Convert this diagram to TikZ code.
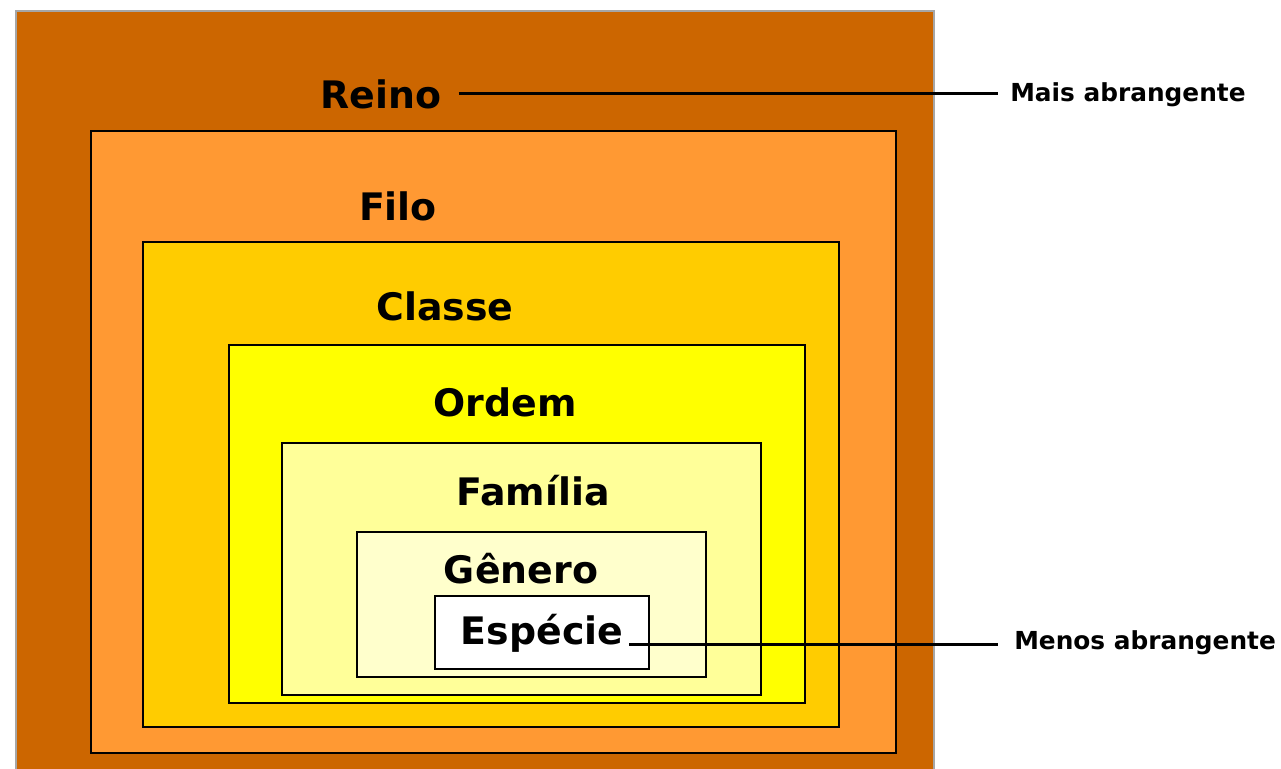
\documentclass[tikz,border=0pt]{standalone}
\usepackage{fontspec}
\setmainfont{DejaVu Sans}
\usepackage{xcolor}

\definecolor{reinocol}{HTML}{CC6600}
\definecolor{filocol}{HTML}{FF9933}
\definecolor{classecol}{HTML}{FFCC00}
\definecolor{ordemcol}{HTML}{FFFF00}
\definecolor{familiacol}{HTML}{FFFF99}
\definecolor{generocol}{HTML}{FFFFCC}

\begin{document}
\begin{tikzpicture}[x=0.75pt,y=-0.75pt,
    box/.style={draw=black,line width=1.5pt},
    rank/.style={font=\fontsize{28.4}{28.4}\selectfont\bfseries,inner sep=0pt,anchor=base},
    side/.style={font=\fontsize{18.6}{18.6}\selectfont\bfseries,inner sep=0pt,anchor=base west},
    link/.style={line width=2.25pt}]
        \useasboundingbox (0,0) rectangle (1281,768);

        % Reino
        \draw[fill=reinocol,draw=gray!70,line width=1.5pt] (16,11) rectangle (934,780);
        \node[rank] (reino) at (381,108) {Reino};

        % Filo
        \draw[box,fill=filocol] (91,131) rectangle (896,753);
        \node[rank] (filo) at (398,220) {Filo};

        % Classe
        \draw[box,fill=classecol] (143,242) rectangle (839,727);
        \node[rank] (classe) at (445,320) {Classe};

        % Ordem
        \draw[box,fill=ordemcol] (229,345) rectangle (805,703);
        \node[rank] (ordem) at (505,416) {Ordem};

        % Familia
        \draw[box,fill=familiacol] (282,443) rectangle (761,695);
        \node[rank] (familia) at (533,505) {Família};

        % Genero
        \draw[box,fill=generocol] (357,532) rectangle (706,677);
        \node[rank] (genero) at (521,583) {Gênero};

        % Especie
        \draw[box,fill=white] (435,596) rectangle (649,669);
        \node[rank] (especie) at (542,644) {Espécie};

        % Labels at the side
        \node[side] (mais) at (1010,101) {Mais abrangente};
        \node[side] (menos) at (1014,649) {Menos abrangente};

        \draw[link,shorten <=12.75pt,shorten >=9pt] (reino.east) -- (reino.east -| mais.west);
        \draw[link,shorten <=4.5pt,shorten >=12pt] (especie.base east) -- (especie.base east -| menos.west);
    \end{tikzpicture}
\end{document}
